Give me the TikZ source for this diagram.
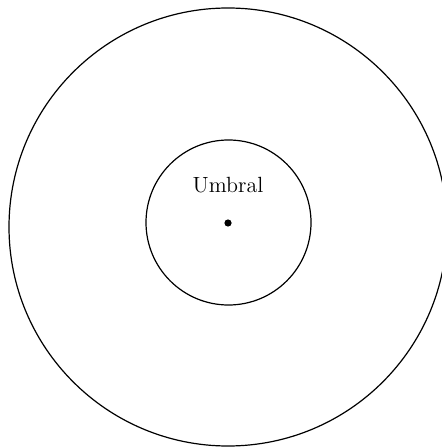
\documentclass[tikz,border=0pt]{standalone}
\usepackage{tikz}
\usetikzlibrary{positioning}

\begin{document}
\begin{tikzpicture}[
  x=0.5pt, y=-0.5pt,
  ring/.style={
    circle,
    draw=black,
    line width=0.6pt,
    inner sep=0pt
  },
  centre/.style={
    circle,
    fill=black,
    inner sep=0pt,
    minimum size=3.6pt
  },
  label/.style={
    font=\fontsize{11}{13}\selectfont,
    inner sep=0pt
  }
]

\useasboundingbox (0,0) rectangle (441,448);

\node[ring, minimum size=219pt] (penumbra) at (228,227) {};
\node[ring, minimum size=82.5pt] (umbra) at (228.5,222.5) {};
\node[centre] (point) at (228,223) {};
\node[label, above=15pt of point.center, anchor=base] (name) {Umbral};

\end{tikzpicture}
\end{document}
